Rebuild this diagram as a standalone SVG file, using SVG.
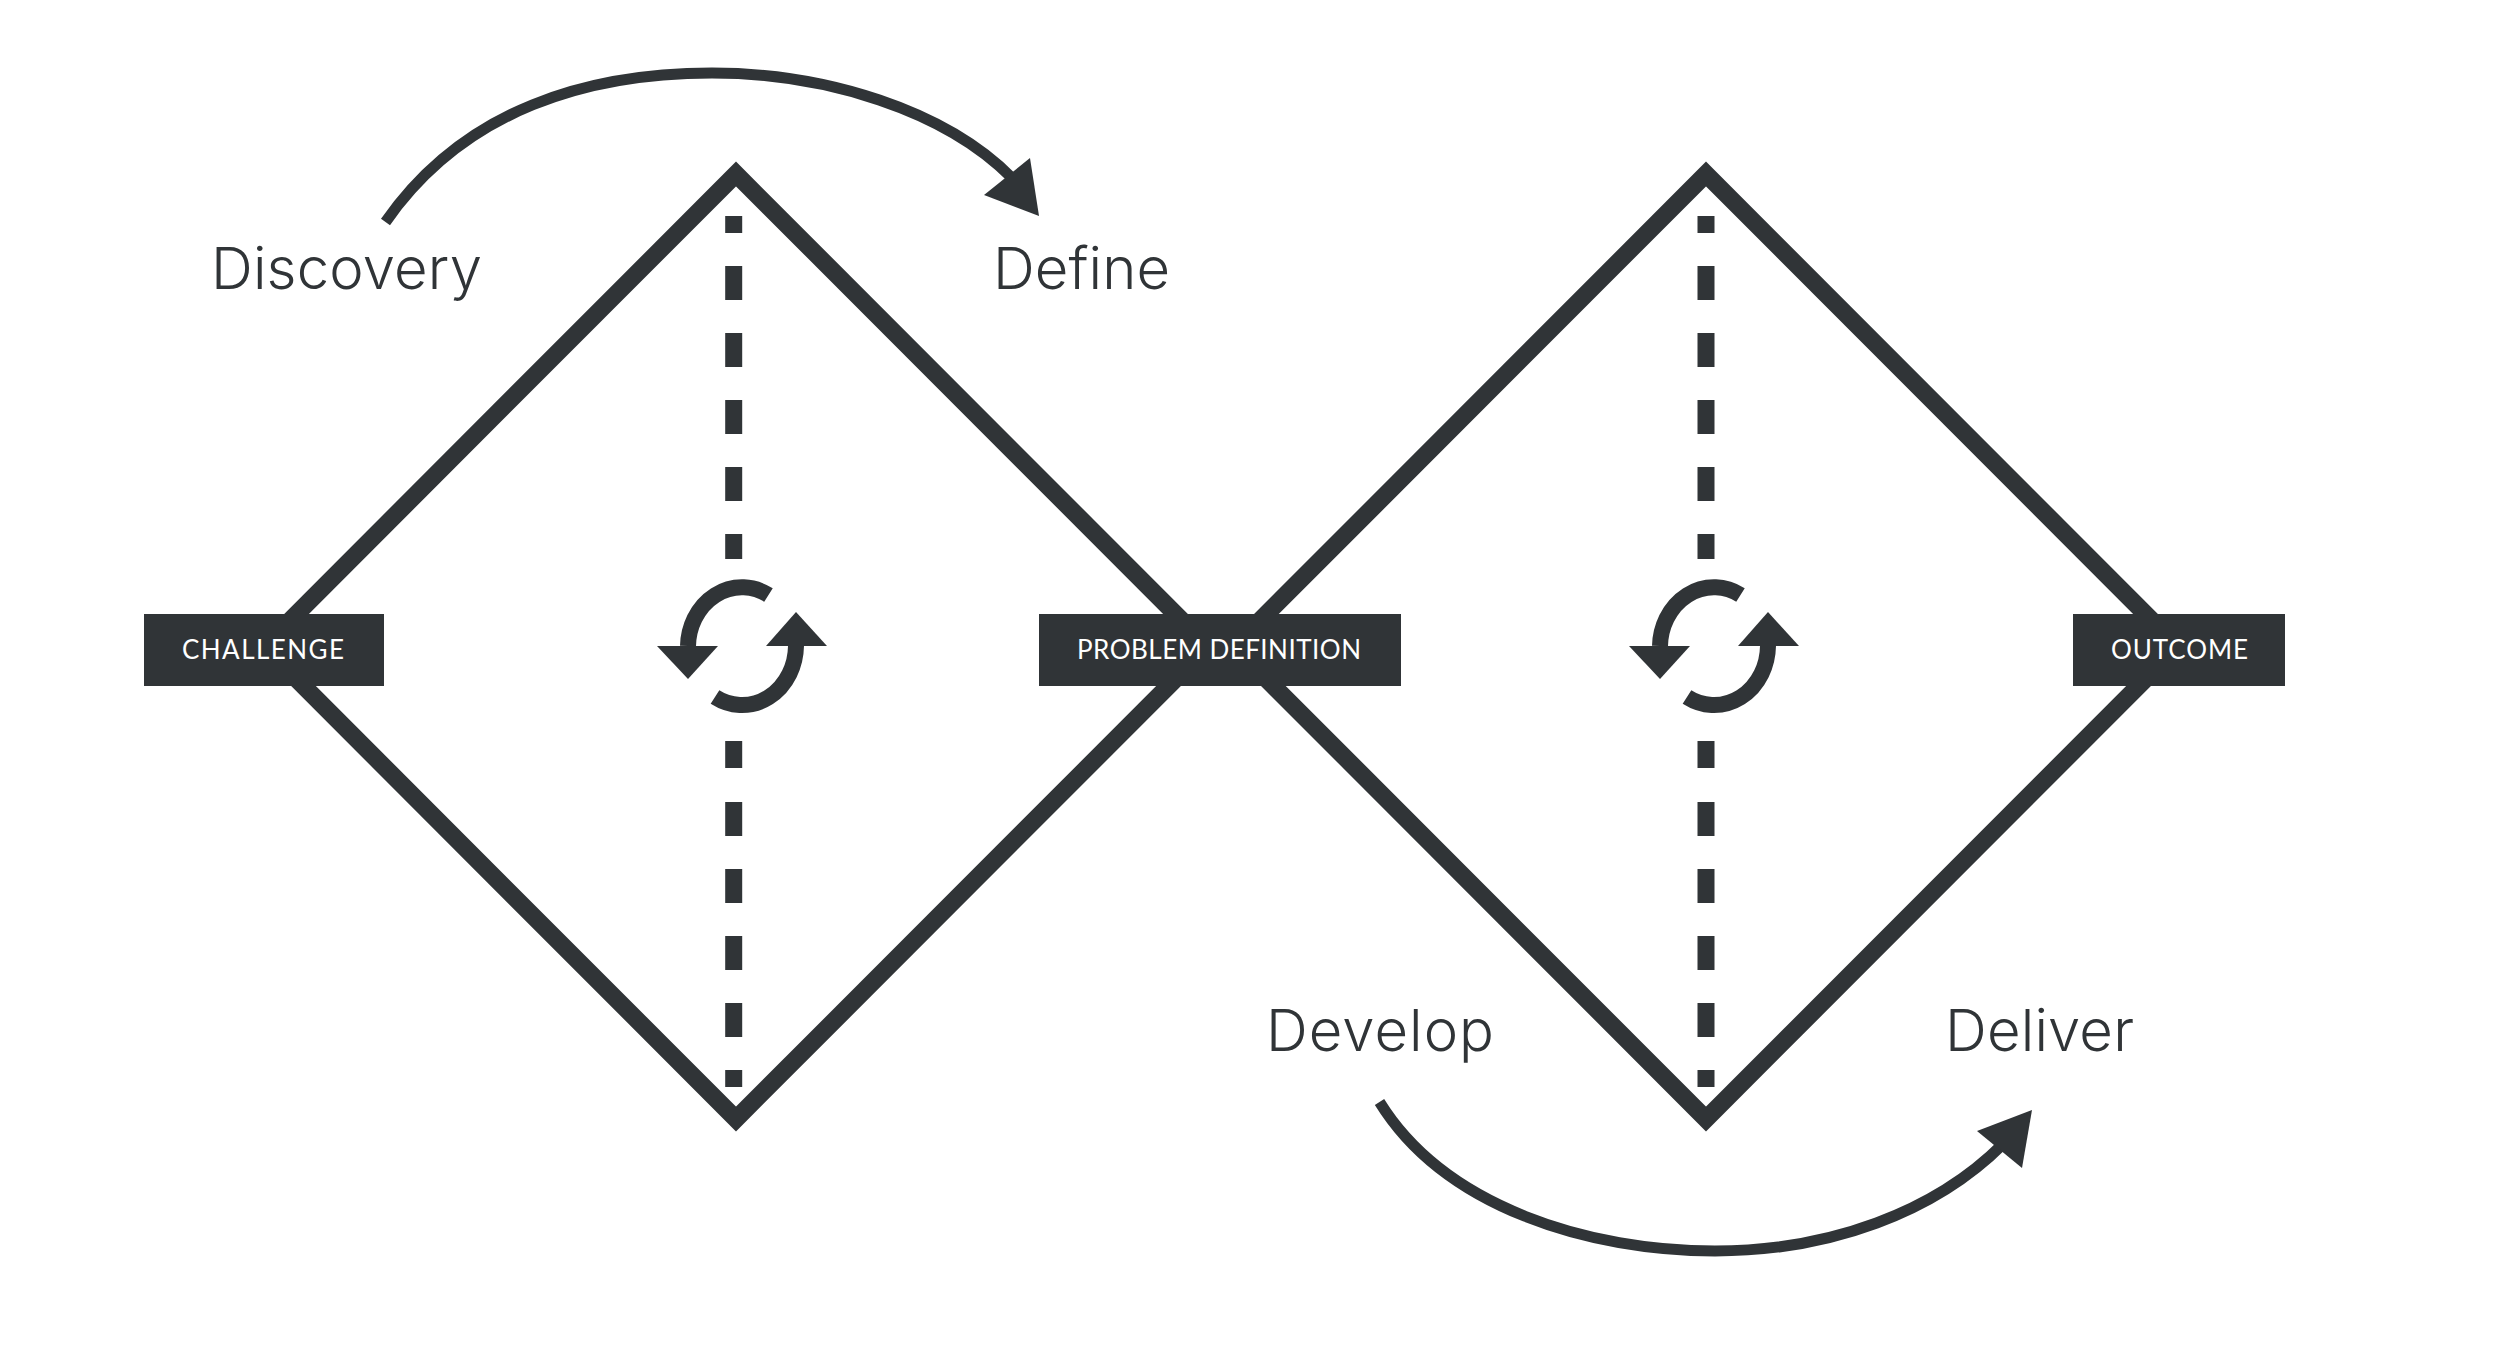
<svg xmlns="http://www.w3.org/2000/svg" width="2500" height="1353" viewBox="0 0 2500 1353">
<style>
.d{fill:none;stroke:#303437;stroke-width:17.5}
.f{fill:#303437}
.c{fill:none;stroke:#303437;stroke-width:11}
.a{fill:none;stroke:#303437;stroke-width:16}
.t{font-family:"Inter","Liberation Sans",sans-serif;font-weight:300;font-size:58px;fill:#303437}
.l{font-family:"Lato","Liberation Sans",sans-serif;font-weight:400;font-size:26px;fill:#fff}
</style>
<rect width="2500" height="1353" fill="#fff"/>
<g id="connectors">
<path class="c" d="M385.5,222C465,108 590,73 712,73C825,73 945,110 1012,178"/>
<polygon class="f" points="1039,216 1030,158 984,195"/>
<path class="c" d="M1379.5,1102C1445,1208 1590,1251 1715,1251C1830,1251 1935,1212 2003,1144"/>
<polygon class="f" points="2032,1110 1977,1131 2022,1168"/>
</g>
<g id="diamond-1"><polygon class="d" points="736,174 1208,646.5 736,1119 264,646.5"/></g>
<g id="diamond-2"><polygon class="d" points="1706,174 2178,646.5 1706,1119 1234,646.5"/></g>
<g id="divider-1"><path class="d" style="stroke-width:17" d="M733.7,216V233M733.7,266V300M733.7,333V367M733.7,400V434M733.7,467V501M733.7,534V559M733.7,741V768M733.7,802V836M733.7,869V903M733.7,936V970M733.7,1003V1037M733.7,1070V1087"/></g>
<g id="divider-2"><path class="d" style="stroke-width:17" d="M1706,216V233M1706,266V300M1706,333V367M1706,400V434M1706,467V501M1706,534V559M1706,741V768M1706,802V836M1706,869V903M1706,936V970M1706,1003V1037M1706,1070V1087"/></g>
<g id="cycle-1">
<path class="a" d="M768.5,595A54,60 0 0 0 688,646"/><polygon class="f" points="657,646 718,646 688,679"/>
<path class="a" d="M715,697A54,60 0 0 0 796,646"/><polygon class="f" points="766,646 827,646 796,612"/>
</g>
<g id="cycle-2" transform="translate(972 0)">
<path class="a" d="M768.5,595A54,60 0 0 0 688,646"/><polygon class="f" points="657,646 718,646 688,679"/>
<path class="a" d="M715,697A54,60 0 0 0 796,646"/><polygon class="f" points="766,646 827,646 796,612"/>
</g>
<g id="challenge"><rect class="f" x="144" y="614" width="240" height="72"/><text class="l" x="182" y="659" textLength="162">CHALLENGE</text></g>
<g id="problem-definition"><rect class="f" x="1039" y="614" width="362" height="72"/><text class="l" x="1077" y="659" textLength="284">PROBLEM DEFINITION</text></g>
<g id="outcome"><rect class="f" x="2073" y="614" width="212" height="72"/><text class="l" x="2111" y="659" textLength="137">OUTCOME</text></g>
<g id="discovery"><text class="t" x="211" y="289" textLength="271">Discovery</text></g>
<g id="define"><text class="t" x="993" y="289" textLength="177">Define</text></g>
<g id="develop"><text class="t" x="1266" y="1051" textLength="228">Develop</text></g>
<g id="deliver"><text class="t" x="1945" y="1051" textLength="189">Deliver</text></g>
</svg>
